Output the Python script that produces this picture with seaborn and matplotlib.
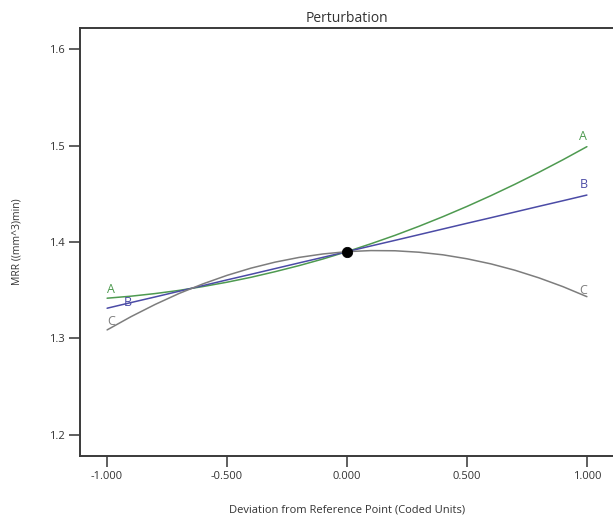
import numpy as np
import pandas as pd
import matplotlib
matplotlib.use("Agg")
import matplotlib.pyplot as plt
import seaborn as sns

# Data
x_vals = [-1.0, -0.9, -0.8, -0.7, -0.6, -0.5, -0.4, -0.3, -0.2, -0.1, 0.0,
          0.1, 0.2, 0.3, 0.4, 0.5, 0.6, 0.7, 0.8, 0.9, 1.0]
series_A = [1.3417, 1.3438, 1.3465, 1.3498, 1.3538, 1.3583, 1.3634, 1.3692, 1.3755, 1.3824, 1.3900,
            1.3982, 1.4069, 1.4163, 1.4263, 1.4369, 1.4481, 1.4599, 1.4723, 1.4853, 1.4989]
series_B = [1.3313, 1.3372, 1.3430, 1.3489, 1.3548, 1.3607, 1.3665, 1.3724, 1.3783, 1.3841, 1.3900,
            1.3959, 1.4017, 1.4076, 1.4135, 1.4194, 1.4252, 1.4311, 1.4370, 1.4428, 1.4487]
series_C = [1.3088, 1.3226, 1.3352, 1.3466, 1.3566, 1.3654, 1.3729, 1.3791, 1.3840, 1.3876, 1.3900,
            1.3911, 1.3909, 1.3894, 1.3867, 1.3826, 1.3773, 1.3707, 1.3628, 1.3537, 1.3433]
series_names = ["A", "B", "C"]
ref_x = [0.0]
ref_y = [1.39]
x_ticks = [-1.0, -0.5, 0.0, 0.5, 1.0]
x_ticklabels = ["-1.000", "-0.500", "0.000", "0.500", "1.000"]
y_ticks = [1.2, 1.3, 1.4, 1.5, 1.6]
y_ticklabels = ["1.2", "1.3", "1.4", "1.5", "1.6"]

sns.set_theme(style="white")
plt.rcParams['font.family'] = ['Open Sans', 'DejaVu Sans']

df = pd.DataFrame({
    "x": x_vals * 3,
    "y": series_A + series_B + series_C,
    "series": ["A"] * len(x_vals) + ["B"] * len(x_vals) + ["C"] * len(x_vals),
})
palette = {"A": "#4e9a50", "B": "#4b4ba6", "C": "#7d7d7d"}
text_col = "#333333"

fig = plt.figure(figsize=(6.13, 5.21), dpi=100)
ax = fig.add_axes([80 / 613, 65 / 521, 534 / 613, 428 / 521])

sns.lineplot(data=df, x="x", y="y", hue="series", palette=palette, ax=ax,
             linewidth=1.1, legend=False, sort=True)
sns.scatterplot(x=ref_x, y=ref_y, ax=ax, color="black", s=55, zorder=5, edgecolor="black")

ax.set_xlim(-1.113, 1.113)
ax.set_ylim(1.178, 1.622)
ax.set_xticks(x_ticks)
ax.set_xticklabels(x_ticklabels)
ax.set_yticks(y_ticks)
ax.set_yticklabels(y_ticklabels)
ax.tick_params(axis="both", which="major", direction="out", length=8, width=1.2,
               color="#444444", labelsize=8, labelcolor=text_col, pad=3,
               bottom=True, left=True)

for side in ["left", "top", "bottom"]:
    ax.spines[side].set_visible(True)
    ax.spines[side].set_color("#3a3a3a")
    ax.spines[side].set_linewidth(1.4)
ax.spines["right"].set_visible(False)

ax.set_title("Perturbation", fontsize=10, color=text_col, pad=4)
ax.set_xlabel("Deviation from Reference Point (Coded Units)", fontsize=8, color=text_col, labelpad=16)
ax.set_ylabel("MRR ((mm^3)min)", fontsize=7.5, color=text_col, labelpad=19)

# series labels at both ends
lab_left = {"A": (-1.0, series_A[0], 0.0, 0.002),
            "B": (-0.93, series_B[0], 0.0, -0.001),
            "C": (-1.0, series_C[0], 0.0, 0.002)}
for name in series_names:
    xx, yy, dx, dy = lab_left[name]
    ax.text(xx + dx, yy + dy, name, color=palette[name], fontsize=9,
            ha="left", va="bottom")
end_off = {"A": 0.004, "B": 0.004, "C": 0.0}
end_vals = {"A": series_A[-1], "B": series_B[-1], "C": series_C[-1]}
for name in series_names:
    ax.text(0.985, end_vals[name] + end_off[name], name, color=palette[name], fontsize=9,
            ha="center", va="bottom")

fig.savefig("out.png", dpi=100)
